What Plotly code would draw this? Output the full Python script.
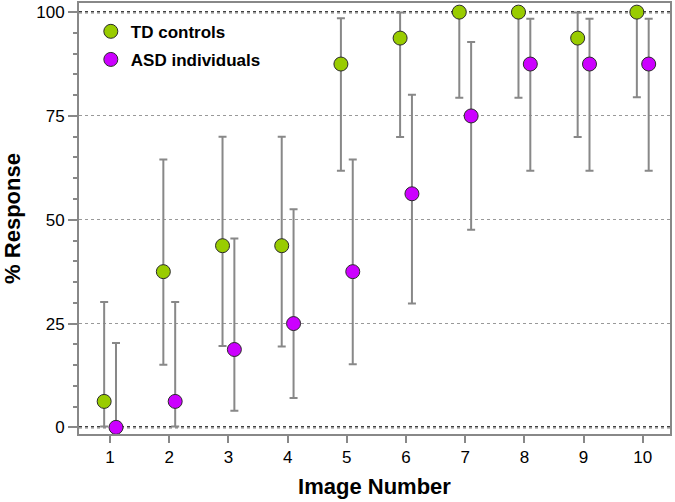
import plotly.graph_objects as go

images = [1, 2, 3, 4, 5, 6, 7, 8, 9, 10]
td_values = [6.25, 37.5, 43.75, 43.75, 87.5, 93.75, 100, 100, 93.75, 100]
td_upper = [30.2, 64.5, 70.0, 70.0, 98.5, 99.9, 100, 100, 99.9, 100]
td_lower = [0.2, 15.1, 19.6, 19.5, 61.8, 69.9, 79.4, 79.4, 69.9, 79.5]
asd_values = [0, 6.25, 18.75, 25, 37.5, 56.25, 75, 87.5, 87.5, 87.5]
asd_upper = [20.3, 30.2, 45.5, 52.5, 64.5, 80.1, 92.8, 98.4, 98.4, 98.4]
asd_lower = [0, 0.2, 4.0, 7.1, 15.2, 29.8, 47.6, 61.8, 61.8, 61.8]
y_ticks = [0, 25, 50, 75, 100]
ref_lines = [0, 100]

GREEN = "#99CC00"
PURPLE = "#CC00FF"
GRAY = "#888888"
OFF = 0.1

fig = go.Figure()


def add_series(name, vals, lo, hi, color, offset):
    xs = [i + offset for i in images]
    fig.add_trace(go.Scatter(
        x=xs, y=vals, mode="markers", name=name, legendgroup=name,
        marker=dict(size=14, color=color, line=dict(color="#2a2a2a", width=1)),
        error_y=dict(type="data", symmetric=False,
                     array=[h - v for h, v in zip(hi, vals)],
                     arrayminus=[v - l for v, l in zip(vals, lo)],
                     color=GRAY, thickness=2, width=4),
    ))


add_series("TD controls", td_values, td_lower, td_upper, GREEN, -OFF)
add_series("ASD individuals", asd_values, asd_lower, asd_upper, PURPLE, OFF)

for r in ref_lines:
    fig.add_shape(type="line", xref="paper", x0=0, x1=1, yref="y", y0=r, y1=r,
                  line=dict(color="black", width=2, dash="dot"), layer="below")

fig.update_layout(
    width=675, height=502,
    margin=dict(l=79, r=5, t=3, b=68),
    plot_bgcolor="white", paper_bgcolor="white",
    font=dict(family="Liberation Sans, Arial, sans-serif", color="black"),
    showlegend=True,
    legend=dict(x=0.02, y=0.975, xanchor="left", yanchor="top",
                bgcolor="rgba(0,0,0,0)", itemwidth=30,
                font=dict(size=17, family="Liberation Sans, Arial, sans-serif", weight="bold"),
                tracegroupgap=3),
)

fig.update_xaxes(
    range=[0.475, 10.46], tickvals=images, ticktext=[str(i) for i in images],
    ticks="outside", ticklen=7, tickwidth=2, tickcolor=GRAY,
    showline=True, linecolor=GRAY, linewidth=2, mirror=True,
    showgrid=False, zeroline=False, automargin=False,
    tickfont=dict(size=17),
    title=dict(text="<b>Image Number</b>", font=dict(size=22), standoff=12),
)
fig.update_yaxes(
    range=[-1.6, 102.2], tickvals=y_ticks,
    ticks="outside", ticklen=9, tickwidth=2, tickcolor=GRAY,
    minor=dict(dtick=5, tick0=0, ticks="outside", ticklen=4, tickwidth=2, tickcolor=GRAY, showgrid=False),
    showline=True, linecolor=GRAY, linewidth=2, mirror=True,
    showgrid=True, gridcolor="#999999", gridwidth=1, griddash="dot",
    zeroline=False, automargin=False,
    tickfont=dict(size=17),
    title=dict(text="<b>% Response</b>", font=dict(size=22), standoff=10),
)

fig.write_html("out.html", config={"displayModeBar": False},
               post_script="document.body.style.margin='0';document.body.style.overflow='hidden';")
